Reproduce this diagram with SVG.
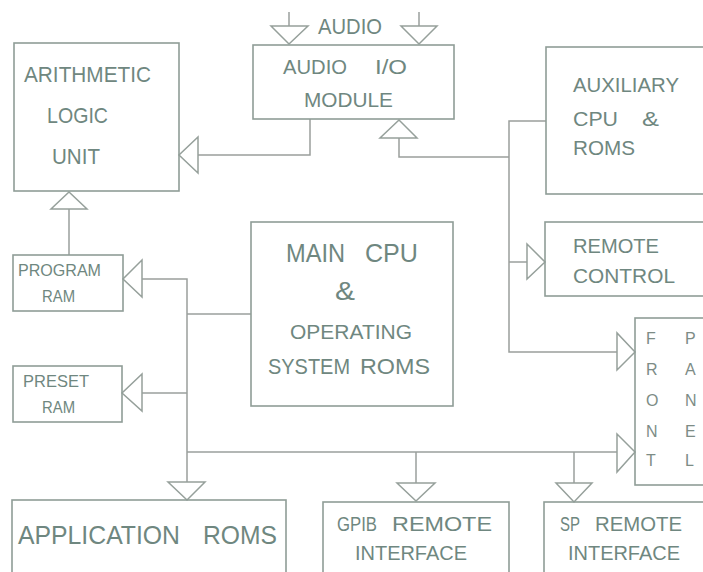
<svg xmlns="http://www.w3.org/2000/svg" width="703" height="572" viewBox="0 0 703 572">
<style>
.box{fill:none;stroke:#8f9d97;stroke-width:1.6}
.ln{fill:none;stroke:#9a9f9c;stroke-width:1.5}
.ar{fill:#fff;stroke:#96a09b;stroke-width:1.5;stroke-linejoin:miter}
text{font-family:"Liberation Sans","DejaVu Sans",sans-serif;fill:#6f8780}
.t22{font-size:22px}
.t20{font-size:20px}
.t16{font-size:17px}
.t26{font-size:26px}
.fp{font-size:16px;fill:#7d8c86}
</style>
<rect width="703" height="572" fill="#fff"/>
<g id="connectors">
<line class="ln" x1="289" y1="12" x2="289" y2="26"/>
<polygon class="ar" points="271,26 308,26 289,44"/>
<line class="ln" x1="419" y1="12" x2="419" y2="26"/>
<polygon class="ar" points="401,26 437,26 419,44"/>
<polyline class="ln" points="310,119 310,155 198,155"/>
<polygon class="ar" points="198,137 198,173 179,155"/>
<polyline class="ln" points="509,157 399,157 399,138"/>
<polygon class="ar" points="380,138 417,138 399,120"/>
<polyline class="ln" points="546,121 509,121 509,352 617,352"/>
<polygon class="ar" points="617,333 617,370 635,352"/>
<line class="ln" x1="509" y1="262" x2="527" y2="262"/>
<polygon class="ar" points="527,244 527,279 545,262"/>
<line class="ln" x1="69" y1="255" x2="69" y2="209"/>
<polygon class="ar" points="51,209 87,209 69,192"/>
<polyline class="ln" points="142,279 187,279 187,482"/>
<polygon class="ar" points="142,260 142,297 123,279"/>
<line class="ln" x1="142" y1="393" x2="187" y2="393"/>
<polygon class="ar" points="142,374 142,411 122,393"/>
<line class="ln" x1="187" y1="314" x2="251" y2="314"/>
<line class="ln" x1="187" y1="452" x2="617" y2="452"/>
<polygon class="ar" points="617,434 617,472 635,452"/>
<polygon class="ar" points="168,482 205,482 187,500"/>
<line class="ln" x1="416" y1="452" x2="416" y2="483"/>
<polygon class="ar" points="397,483 435,483 416,501"/>
<line class="ln" x1="574" y1="452" x2="574" y2="483"/>
<polygon class="ar" points="556,483 592,483 574,502"/>
</g>
<g id="audio-label"><text class="t22" x="318" y="34" textLength="64" lengthAdjust="spacingAndGlyphs">AUDIO</text></g>
<g id="alu">
<rect class="box" x="14" y="43" width="165" height="148"/>
<text class="t22" x="24" y="82" textLength="127" lengthAdjust="spacingAndGlyphs">ARITHMETIC</text>
<text class="t22" x="47" y="123" textLength="61" lengthAdjust="spacingAndGlyphs">LOGIC</text>
<text class="t22" x="52" y="164" textLength="48" lengthAdjust="spacingAndGlyphs">UNIT</text>
</g>
<g id="audio-io">
<rect class="box" x="253" y="45" width="201" height="74"/>
<text class="t20" x="283" y="74" textLength="64" lengthAdjust="spacingAndGlyphs">AUDIO</text>
<text class="t20" x="375" y="74" textLength="32" lengthAdjust="spacingAndGlyphs">I/O</text>
<text class="t20" x="304" y="107" textLength="89" lengthAdjust="spacingAndGlyphs">MODULE</text>
</g>
<g id="aux-cpu">
<rect class="box" x="546" y="47" width="170" height="147"/>
<text class="t20" x="573" y="92" textLength="106" lengthAdjust="spacingAndGlyphs">AUXILIARY</text>
<text class="t20" x="573" y="126" textLength="45" lengthAdjust="spacingAndGlyphs">CPU</text>
<text class="t20" x="642" y="126" textLength="17" lengthAdjust="spacingAndGlyphs">&amp;</text>
<text class="t20" x="573" y="155" textLength="62" lengthAdjust="spacingAndGlyphs">ROMS</text>
</g>
<g id="remote-control">
<rect class="box" x="545" y="222" width="170" height="74"/>
<text class="t20" x="573" y="253" textLength="86" lengthAdjust="spacingAndGlyphs">REMOTE</text>
<text class="t20" x="573" y="283" textLength="102" lengthAdjust="spacingAndGlyphs">CONTROL</text>
</g>
<g id="program-ram">
<rect class="box" x="13" y="255" width="110" height="56"/>
<text class="t16" x="18" y="276" textLength="83" lengthAdjust="spacingAndGlyphs">PROGRAM</text>
<text class="t16" x="42" y="302" textLength="33" lengthAdjust="spacingAndGlyphs">RAM</text>
</g>
<g id="preset-ram">
<rect class="box" x="13" y="366" width="109" height="56"/>
<text class="t16" x="23" y="387" textLength="66" lengthAdjust="spacingAndGlyphs">PRESET</text>
<text class="t16" x="42" y="413" textLength="33" lengthAdjust="spacingAndGlyphs">RAM</text>
</g>
<g id="main-cpu">
<rect class="box" x="251" y="222" width="202" height="184"/>
<text class="t26" x="286" y="262" textLength="59" lengthAdjust="spacingAndGlyphs">MAIN</text>
<text class="t26" x="365" y="262" textLength="53" lengthAdjust="spacingAndGlyphs">CPU</text>
<text class="t26" x="335" y="300" textLength="20" lengthAdjust="spacingAndGlyphs">&amp;</text>
<text class="t20" x="290" y="339" textLength="122" lengthAdjust="spacingAndGlyphs">OPERATING</text>
<text class="t22" x="268" y="374" textLength="82" lengthAdjust="spacingAndGlyphs">SYSTEM</text>
<text class="t22" x="360" y="374" textLength="70" lengthAdjust="spacingAndGlyphs">ROMS</text>
</g>
<g id="front-panel">
<rect class="box" x="635" y="318" width="80" height="167"/>
<text class="fp" x="646" y="344">F</text>
<text class="fp" x="646" y="375">R</text>
<text class="fp" x="646" y="406">O</text>
<text class="fp" x="646" y="437">N</text>
<text class="fp" x="646" y="466">T</text>
<text class="fp" x="685" y="344">P</text>
<text class="fp" x="685" y="375">A</text>
<text class="fp" x="685" y="406">N</text>
<text class="fp" x="685" y="437">E</text>
<text class="fp" x="685" y="466">L</text>
</g>
<g id="application-roms">
<rect class="box" x="12" y="500" width="274" height="80"/>
<text class="t26" x="18" y="544" textLength="162" lengthAdjust="spacingAndGlyphs">APPLICATION</text>
<text class="t26" x="203" y="544" textLength="74" lengthAdjust="spacingAndGlyphs">ROMS</text>
</g>
<g id="gpib-remote">
<rect class="box" x="323" y="502" width="186" height="80"/>
<text class="t20" x="337" y="531" textLength="40" lengthAdjust="spacingAndGlyphs">GPIB</text>
<text class="t20" x="392" y="531" textLength="100" lengthAdjust="spacingAndGlyphs">REMOTE</text>
<text class="t20" x="355" y="560" textLength="112" lengthAdjust="spacingAndGlyphs">INTERFACE</text>
</g>
<g id="sp-remote">
<rect class="box" x="544" y="502" width="170" height="80"/>
<text class="t20" x="560" y="531" textLength="20" lengthAdjust="spacingAndGlyphs">SP</text>
<text class="t20" x="595" y="531" textLength="87" lengthAdjust="spacingAndGlyphs">REMOTE</text>
<text class="t20" x="568" y="560" textLength="112" lengthAdjust="spacingAndGlyphs">INTERFACE</text>
</g>
</svg>
